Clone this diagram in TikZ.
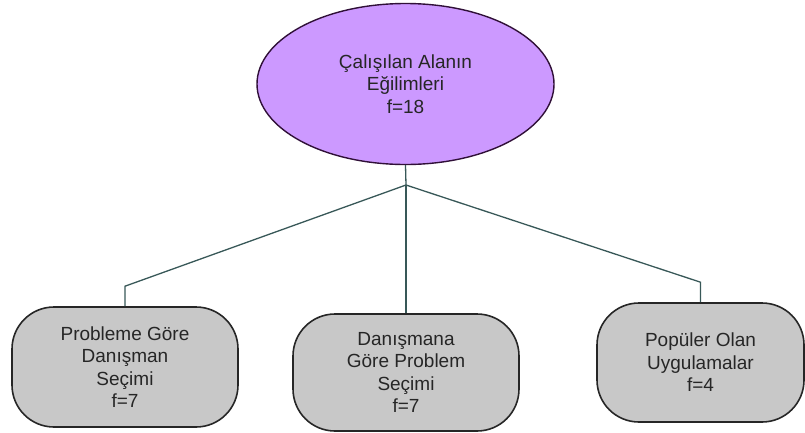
\documentclass[tikz,border=0pt]{standalone}
\usepackage{fontspec}
\setmainfont{Liberation Sans}
\usepackage{tikz}
\usepackage{xcolor}
\usetikzlibrary{arrows.meta, positioning, shapes.geometric, calc}

\definecolor{lilac}{RGB}{204,153,255}
\definecolor{boxgray}{RGB}{200,200,200}
\definecolor{linegray}{RGB}{56,88,88}
\definecolor{rimpurple}{RGB}{48,16,56}

\begin{document}
\begin{tikzpicture}[
    x=1pt, y=-1pt,
    topic/.style={ellipse, draw=rimpurple, line width=1.4pt, fill=lilac, minimum width=297pt, minimum height=161pt, inner sep=0pt, align=center, font=\fontsize{19}{22.5}\selectfont, text=black!85},
    sub/.style={rectangle, draw=black!85, line width=1.6pt, fill=boxgray, rounded corners=42pt, minimum width=226pt, minimum height=120pt, inner sep=0pt, align=center, font=\fontsize{19}{22.5}\selectfont, text=black!85},
    link/.style={draw=linegray, line width=1.3pt}
]
\useasboundingbox (0,0) rectangle (805,432);

% ana konu
\node[topic] (trend) at (405.5,84) {Çalışılan Alanın\\Eğilimleri\\f=18};

% alt konular
\node[sub] (probdan) at (125,367) {Probleme Göre\\Danışman\\Seçimi\\f=7};
\node[sub, minimum height=117pt] (danprob) at (406,372.5) {Danışmana\\Göre Problem\\Seçimi\\f=7};
\node[sub, minimum width=207pt, minimum height=119pt] (popular) at (700.5,362.5) {Popüler Olan\\Uygulamalar\\f=4};

% dallar
\coordinate (fork) at (406,185);
\draw[link] (trend.south) -- (fork);
\draw[link] (fork) -- ([yshift=20pt]probdan.north) -- (probdan.north);
\draw[link] (fork) -- (danprob.north);
\draw[link] (fork) -- ([yshift=20pt]popular.north) -- (popular.north);
\end{tikzpicture}
\end{document}
